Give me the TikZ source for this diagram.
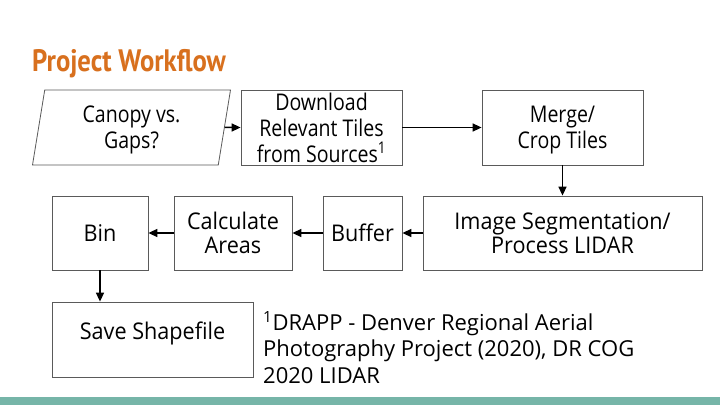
\documentclass[tikz,border=0pt]{standalone}
\usepackage{fontspec}
\setmainfont{Open Sans}
\newfontfamily\titlefont[FakeStretch=0.86]{PT Sans}
\newfontfamily\topfont[FakeStretch=0.85]{Open Sans}
\newfontfamily\lowfont[FakeStretch=0.94]{Open Sans}
\usetikzlibrary{shapes.geometric,arrows.meta}
\definecolor{titleorange}{RGB}{216,112,30}
\definecolor{barteal}{RGB}{118,181,168}
\definecolor{boxgray}{RGB}{90,90,90}
\begin{document}
\begin{tikzpicture}[x=1pt,y=1pt,
    stepbox/.style={draw=boxgray,line width=0.8pt,fill=white,align=center,inner sep=0pt,text depth=0pt},
    topbox/.style={stepbox,font=\topfont\fontsize{23}{26}\selectfont,minimum height=75},
    lowbox/.style={stepbox,font=\lowfont\fontsize{23}{24.5}\selectfont,minimum height=74},
    flowarrow/.style={-{Triangle[length=9pt,width=8pt]},line width=1.5pt}]

    \useasboundingbox (0,0) rectangle (720,405);
    \fill[white] (0,0) rectangle (720,405);
    \fill[barteal] (0,0) rectangle (720,8);

    \node[anchor=base west,inner sep=0pt,text=titleorange,font=\titlefont\bfseries\fontsize{31}{31}\selectfont]
        (title) at (32,333) {Project Workflow};

    % first row
    \node[topbox,trapezium,trapezium left angle=74,trapezium right angle=106,
        trapezium stretches body,minimum width=198] (canopy) at (131.5,277.5) {Canopy vs.\\Gaps?};
    \node[topbox,minimum width=161] (download) at (321.5,277.5) {Download\\Relevant Tiles\\from Sources\textsuperscript{1}};
    \node[topbox,minimum width=161] (merge) at (562.5,277.5) {Merge/\\Crop Tiles};

    % second row
    \node[lowbox,minimum width=279] (segment) at (562.5,172) {Image Segmentation/\\Process LIDAR};
    \node[lowbox,minimum width=79] (buffer) at (362.5,172) {Buffer};
    \node[lowbox,minimum width=118] (areas) at (233,172) {Calculate\\Areas};
    \node[lowbox,minimum width=96] (bin) at (100,172) {Bin};

    % third row
    \node[lowbox,minimum width=201,minimum height=75,text depth=17pt] (save) at (152.5,65.5) {Save Shapefile};
    \node[anchor=base west,align=left,inner sep=0pt,font=\fontsize{22}{26.5}\selectfont]
        (note) at (263,22) {\textsuperscript{1}DRAPP - Denver Regional Aerial\\Photography Project (2020), DR COG\\2020 LIDAR};

    \draw[flowarrow] (canopy.east) -- (download.west);
    \draw[flowarrow] (download.east) -- (merge.west);
    \draw[flowarrow] (merge.south) -- (merge.south |- segment.north);
    \draw[flowarrow] (segment.west) -- (buffer.east);
    \draw[flowarrow] (buffer.west) -- (areas.east);
    \draw[flowarrow] (areas.west) -- (bin.east);
    \draw[flowarrow] (bin.south) -- (bin.south |- save.north);
\end{tikzpicture}
\end{document}
